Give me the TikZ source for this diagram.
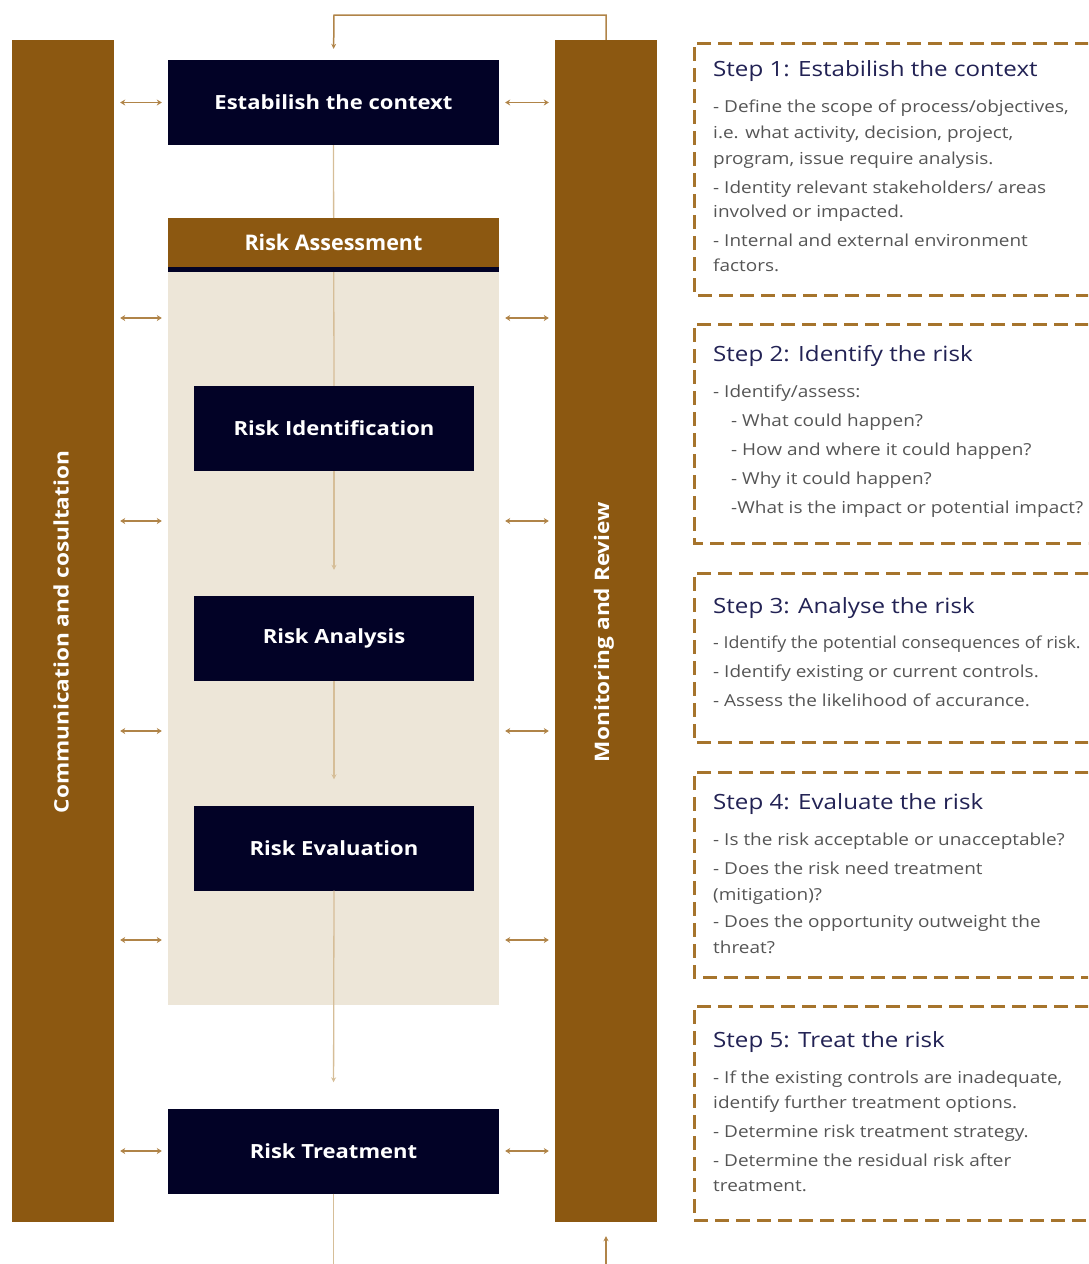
\documentclass[tikz,border=0pt]{standalone}
\usepackage{fontspec}
\setmainfont{Open Sans}
\newfontfamily\bodyfont{Open Sans}[FakeStretch=1.15]
\newfontfamily\wideboldfont{Open Sans}[FakeStretch=1.13]
\usetikzlibrary{arrows.meta,calc}
\definecolor{barbrown}{RGB}{140,88,17}
\definecolor{navy}{RGB}{2,2,38}
\definecolor{beige}{RGB}{237,230,216}
\definecolor{tanline}{RGB}{214,190,152}
\definecolor{linkbrown}{RGB}{176,132,72}
\definecolor{dashbrown}{RGB}{166,116,44}
\definecolor{titlenavy}{RGB}{34,34,84}
\definecolor{bodygray}{RGB}{85,85,85}

\begin{document}
\begin{tikzpicture}[x=1pt,y=-1pt,
  bar/.style={fill=barbrown, minimum width=102pt, minimum height=1182pt, inner sep=0},
  bartext/.style={text=white, font=\wideboldfont\fontsize{20}{24}\selectfont\bfseries, rotate=90, inner sep=0},
  navybox/.style={fill=navy, text=white, font=\wideboldfont\fontsize{19.5}{23}\selectfont\bfseries, minimum height=85pt, inner sep=0},
  widebox/.style={navybox, minimum width=331pt},
  narrowbox/.style={navybox, minimum width=280pt},
  flow/.style={draw=tanline, line width=1.3pt},
  flowarrow/.style={flow, -{Stealth[length=5pt,width=5pt]}},
  loop/.style={draw=linkbrown, line width=1.5pt},
  link/.style={draw=linkbrown, line width=1.8pt, {Stealth[length=5pt,width=6pt]}-{Stealth[length=5pt,width=6pt]}, shorten <=6pt, shorten >=6pt},
  dashbox/.style={draw=dashbrown, line width=3pt, dash pattern=on 14pt off 7pt},
  steptitle/.style={anchor=base west, inner sep=0, text=titlenavy, font=\bodyfont\fontsize{21}{25}\selectfont},
  stepbody/.style={anchor=north west, inner sep=0, align=left, text=bodygray, font=\bodyfont\fontsize{16.5}{26}\selectfont},
]
\useasboundingbox (0,0) rectangle (1088,1264);
\clip (0,0) rectangle (1088,1264);

% side bars
\node[bar] (lbar) at (63,631) {};
\node[bartext] (ltext) at (61,632) {Communication and cosultation};
\node[bar] (rbar) at (606,631) {};
\node[bartext] (rtext) at (604,632) {Monitoring and Review};

% risk assessment area
\node[fill=beige, minimum width=331pt, minimum height=733pt, inner sep=0] (raa) at (333.5,638.5) {};

% process boxes
\node[widebox] (est) at (333.5,102.5) {Estabilish the context};
\node[narrowbox] (ri) at (334,428.5) {Risk Identification};
\node[narrowbox] (ran) at (334,638.5) {Risk Analysis};
\node[narrowbox] (re) at (334,848) {Risk Evaluation};
\node[widebox] (rt) at (333.5,1151) {Risk Treatment};

% main flow
\draw[flow] (est.south) -- (ri.north);
\draw[flowarrow, shorten >=26pt] (ri.south) -- (ran.north);
\draw[flowarrow, shorten >=26pt] (ran.south) -- (re.north);
\draw[flowarrow, shorten >=26pt] (re.south) -- (rt.north);
\coordinate (outbot) at (333.5,1264);
\draw[flow] (rt.south) -- (outbot);

% risk assessment header
\node[fill=barbrown, minimum width=331pt, minimum height=49pt, inner sep=0, text=white,
      font=\fontsize{21.5}{25}\selectfont\bfseries] (rah) at (333.5,242.5) {Risk Assessment};
\fill[navy] (rah.south west) rectangle ($(rah.south east)+(0,5)$);

% feedback loop
\coordinate (fbtop) at (334,15);
\draw[loop, -{Stealth[length=5pt,width=5pt]}, shorten >=11pt] (rbar.north) |- (fbtop) -- (est.north);
\coordinate (inbot) at (606,1264);
\draw[loop, -{Stealth[length=5pt,width=5pt]}, shorten >=14pt] (inbot) -- (rbar.south);

% communication and monitoring links
\draw[link] (lbar.east |- est) -- (est.west);
\draw[link] (est.east) -- (rbar.west |- est);
\foreach \yy in {318,521,731,940} {
  \draw[link] (lbar.east |- 0,\yy) -- (raa.west |- 0,\yy);
  \draw[link] (raa.east |- 0,\yy) -- (rbar.west |- 0,\yy);
}
\draw[link] (lbar.east |- rt) -- (rt.west);
\draw[link] (rt.east) -- (rbar.west |- rt);

% step descriptions
\draw[dashbox] (1110,43) -| (694,295) -- (1110,295);
\node[steptitle] (s1t) at (713,76) {Step 1: Estabilish the context};
\node[stepbody] (s1b) at (713,100) {- Define the scope of process/objectives,\\
i.e. what activity, decision, project,\\
program, issue require analysis.\\[3pt]
- Identity relevant stakeholders/ areas\\[-2pt]
involved or impacted.\\[3pt]
- Internal and external environment\\[-1pt]
factors.};

\draw[dashbox] (1110,324) -| (694,543) -- (1110,543);
\node[steptitle] (s2t) at (713,361) {Step 2: Identify the risk};
\node[stepbody, font=\bodyfont\fontsize{16.5}{29}\selectfont] (s2b) at (713,385) {- Identify/assess:\\
\hspace*{18pt}- What could happen?\\
\hspace*{18pt}- How and where it could happen?\\
\hspace*{18pt}- Why it could happen?\\
\hspace*{18pt}-What is the impact or potential impact?};

\draw[dashbox] (1110,573) -| (694,742) -- (1110,742);
\node[steptitle] (s3t) at (713,613) {Step 3: Analyse the risk};
\node[stepbody, font=\bodyfont\fontsize{16.5}{29}\selectfont] (s3b) at (713,636) {\scalebox{0.94}[1]{- Identify the potential consequences of risk.}\\
- Identify existing or current controls.\\
- Assess the likelihood of accurance.};

\draw[dashbox] (1110,772) -| (694,977) -- (1110,977);
\node[steptitle] (s4t) at (713,809) {Step 4: Evaluate the risk};
\node[stepbody] (s4b) at (713,833) {- Is the risk acceptable or unacceptable?\\[3pt]
- Does the risk need treatment\\
(mitigation)?\\[1pt]
- Does the opportunity outweight the\\
threat?};

\draw[dashbox] (1110,1006) -| (694,1220) -- (1110,1220);
\node[steptitle] (s5t) at (713,1047) {Step 5: Treat the risk};
\node[stepbody, font=\bodyfont\fontsize{16.5}{25}\selectfont] (s5b) at (713,1071) {- If the existing controls are inadequate,\\
identify further treatment options.\\[4pt]
- Determine risk treatment strategy.\\[4pt]
- Determine the residual risk after\\
treatment.};
\end{tikzpicture}
\end{document}
